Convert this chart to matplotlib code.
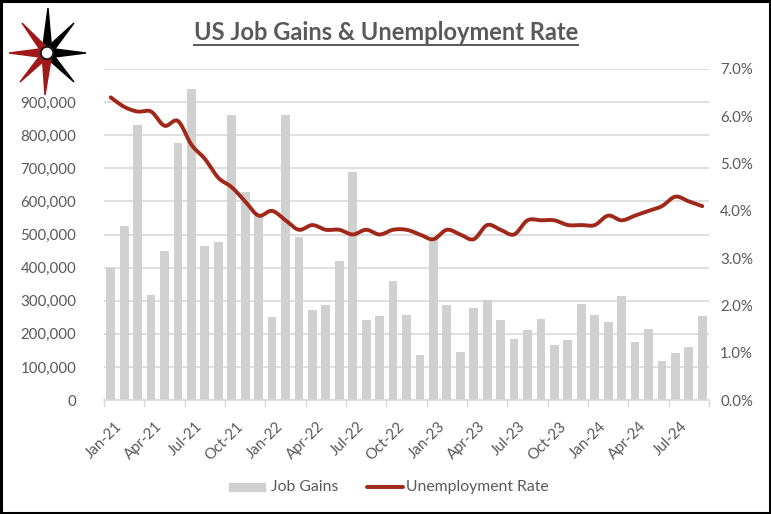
import numpy as np
import matplotlib
matplotlib.use("Agg")
import matplotlib.pyplot as plt
import matplotlib.transforms as mtransforms
from matplotlib.patches import Polygon, Circle, Rectangle
from matplotlib.lines import Line2D
from matplotlib.ticker import FuncFormatter, MultipleLocator

plt.rcParams['font.family'] = ['Lato', 'DejaVu Sans']

months = ["Jan-21", "Feb-21", "Mar-21", "Apr-21", "May-21", "Jun-21", "Jul-21", "Aug-21", "Sep-21",
          "Oct-21", "Nov-21", "Dec-21", "Jan-22", "Feb-22", "Mar-22", "Apr-22", "May-22", "Jun-22",
          "Jul-22", "Aug-22", "Sep-22", "Oct-22", "Nov-22", "Dec-22", "Jan-23", "Feb-23", "Mar-23",
          "Apr-23", "May-23", "Jun-23", "Jul-23", "Aug-23", "Sep-23", "Oct-23", "Nov-23", "Dec-23",
          "Jan-24", "Feb-24", "Mar-24", "Apr-24", "May-24", "Jun-24", "Jul-24", "Aug-24", "Sep-24"]

job_gains = [400000, 527000, 830000, 318000, 451000, 776000, 939000, 465000, 478000,
             860000, 629000, 560000, 252000, 860000, 491000, 273000, 286000, 419000,
             689000, 243000, 254000, 360000, 256000, 135000, 490000, 286000, 145000,
             278000, 302000, 241000, 183000, 210000, 246000, 165000, 180000, 289000,
             257000, 236000, 313000, 175000, 216000, 118000, 143000, 160000, 254000]

unemployment = [6.4, 6.2, 6.1, 6.1, 5.8, 5.9, 5.4, 5.1, 4.7, 4.5, 4.2, 3.9,
                4.0, 3.8, 3.6, 3.7, 3.6, 3.6, 3.5, 3.6, 3.5, 3.6, 3.6, 3.5,
                3.4, 3.6, 3.5, 3.4, 3.7, 3.6, 3.5, 3.8, 3.8, 3.8, 3.7, 3.7,
                3.7, 3.9, 3.8, 3.9, 4.0, 4.1, 4.3, 4.2, 4.1]

tick_labels = ["Jan-21", "Apr-21", "Jul-21", "Oct-21", "Jan-22", "Apr-22", "Jul-22", "Oct-22",
               "Jan-23", "Apr-23", "Jul-23", "Oct-23", "Jan-24", "Apr-24", "Jul-24"]

series_names = ["Job Gains", "Unemployment Rate"]
title_text = "US Job Gains & Unemployment Rate"

W, H = 771, 514
fig = plt.figure(figsize=(W / 100, H / 100), dpi=100)
fig.patch.set_facecolor('white')

TXT = '#595959'
GRID = '#D9D9D9'
BAR = '#D0D0D0'
LINE = '#A02818'

# border
fig.add_artist(Rectangle((0.0015, 0.002), 0.997, 0.996, transform=fig.transFigure,
                         fill=False, edgecolor='black', linewidth=2.2))

left, right, bottom, top = 104 / W, 709 / W, 1 - 400 / H, 1 - 69 / H
ax = fig.add_axes([left, bottom, right - left, top - bottom])
ax2 = ax.twinx()

x = np.arange(len(months))
ax.bar(x, job_gains, width=0.66, color=BAR, zorder=2)
ax.set_xlim(-0.5, len(months) - 0.5)
ax.set_ylim(0, 1000000)
ax.yaxis.set_major_locator(MultipleLocator(100000))
ax.yaxis.set_major_formatter(FuncFormatter(lambda v, p: f"{int(v):,}" if v < 1000000 else ""))
ax.grid(axis='y', color=GRID, linewidth=1.2, zorder=0)
ax.set_axisbelow(True)

tick_pos = np.arange(-0.5, len(months), 3)
ax.set_xticks(tick_pos)
ax.set_xticklabels(tick_labels + [""] * (len(tick_pos) - len(tick_labels)),
                   rotation=45, ha='right', rotation_mode='anchor')
ax.tick_params(axis='x', length=5, width=1, color=GRID, labelsize=10.8, pad=9)
ax.tick_params(axis='y', length=0, colors=TXT, labelsize=10.8, pad=20)
offset = mtransforms.ScaledTranslation(11 / 100, 0, fig.dpi_scale_trans)
for lab in ax.get_xticklabels():
    lab.set_color(TXT)
    lab.set_transform(lab.get_transform() + offset)

for side in ['top', 'left', 'right']:
    ax.spines[side].set_visible(False)
    ax2.spines[side].set_visible(False)
ax.spines['bottom'].set_color(GRID)
ax.spines['bottom'].set_linewidth(1.2)
ax2.spines['bottom'].set_visible(False)


# smooth line (Catmull-Rom rendering of monthly points)
def catmull_rom(xs, ys, n=20):
    xs = np.asarray(xs, float)
    ys = np.asarray(ys, float)
    px = np.concatenate([[xs[0]], xs, [xs[-1]]])
    py = np.concatenate([[ys[0]], ys, [ys[-1]]])
    outx, outy = [], []
    for i in range(1, len(px) - 2):
        t = np.linspace(0, 1, n, endpoint=False)
        for arr, out in ((px, outx), (py, outy)):
            p0, p1, p2, p3 = arr[i - 1], arr[i], arr[i + 1], arr[i + 2]
            m1 = (p2 - p0) / 2
            m2 = (p3 - p1) / 2
            h00 = 2 * t ** 3 - 3 * t ** 2 + 1
            h10 = t ** 3 - 2 * t ** 2 + t
            h01 = -2 * t ** 3 + 3 * t ** 2
            h11 = t ** 3 - t ** 2
            out.extend(h00 * p1 + h10 * m1 + h01 * p2 + h11 * m2)
    outx.append(xs[-1])
    outy.append(ys[-1])
    return np.array(outx), np.array(outy)


sx, sy = catmull_rom(x, unemployment)
ax2.plot(sx, sy, color=LINE, linewidth=2.8, solid_capstyle='round', zorder=3)
ax2.set_ylim(0, 7)
ax2.yaxis.set_major_locator(MultipleLocator(1))
ax2.yaxis.set_major_formatter(FuncFormatter(lambda v, p: f"{v:.1f}%"))
ax2.tick_params(axis='y', length=0, colors=TXT, labelsize=10.8, pad=8)

# title
t = fig.text(386 / W, 1 - 33 / H, title_text, ha='center', va='center',
             fontsize=17, fontweight='bold', color=TXT)
fig.canvas.draw()
bb = t.get_window_extent()
fig.add_artist(Line2D([bb.x0 / W, bb.x1 / W], [(bb.y0 - 0.5) / H, (bb.y0 - 0.5) / H],
                      transform=fig.transFigure, color=TXT, linewidth=1.4))

# legend (placed in figure pixels)
ly = 1 - 487 / H
fig.add_artist(Rectangle((229 / W, ly - 4 / H), 36 / W, 8 / H, transform=fig.transFigure,
                         color=BAR))
fig.text(271 / W, ly, series_names[0], ha='left', va='center', fontsize=11.3, color=TXT)
fig.add_artist(Line2D([367 / W, 403 / W], [ly, ly], transform=fig.transFigure, color=LINE,
                      linewidth=2.8, solid_capstyle='round'))
fig.text(406 / W, ly, series_names[1], ha='left', va='center', fontsize=11.3, color=TXT)

# logo
lax = fig.add_axes([0, 1 - 100 / H, 100 / W, 100 / H])
lax.set_xlim(0, 100)
lax.set_ylim(100, 0)
lax.axis('off')
cx, cy = 47, 53
spikes = [((48, 8), 5, 'black'), ((74, 23), 4, 'black'), ((86, 53), 5, 'black'),
          ((74, 82), 4, 'black'), ((45, 95), 5, '#A01818'), ((20, 82), 4, '#A01818'),
          ((9, 53), 5, '#A01818'), ((22, 23), 4, '#A01818')]
for (tx, ty), hw, col in spikes:
    dx, dy = tx - cx, ty - cy
    L = np.hypot(dx, dy)
    nx, ny = -dy / L, dx / L
    pts = [(cx + nx * hw, cy + ny * hw), (tx, ty), (cx - nx * hw, cy - ny * hw)]
    lax.add_patch(Polygon(pts, closed=True, color=col))
lax.add_patch(Circle((cx, cy), 6.5, color='#1a1a1a'))
lax.add_patch(Circle((cx, cy), 4.5, color='white'))

fig.savefig("out.png", dpi=100, facecolor='white')
